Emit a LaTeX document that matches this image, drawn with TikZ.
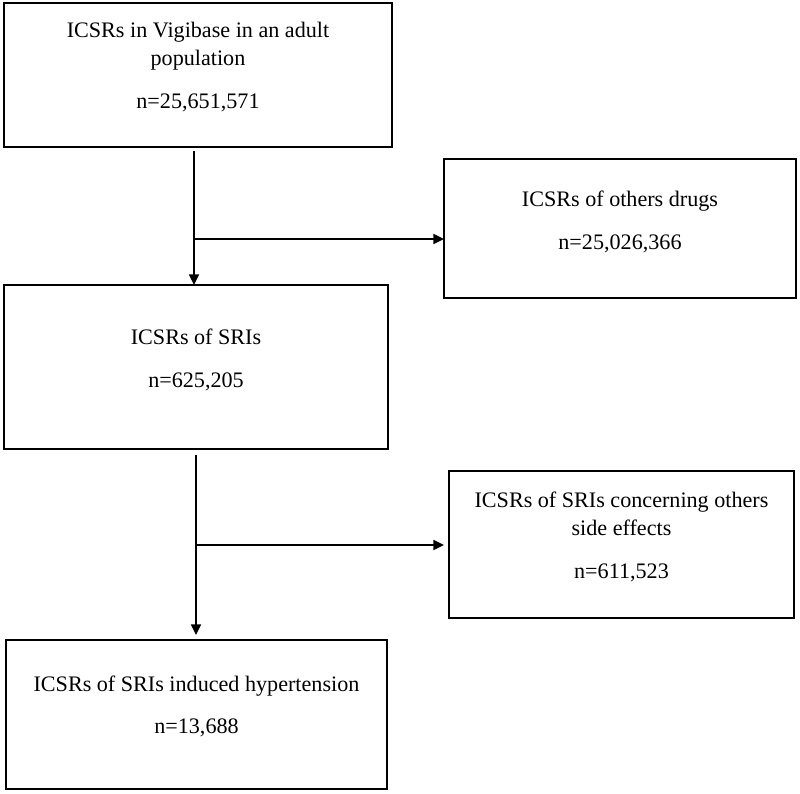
\documentclass[tikz,border=0pt]{standalone}
\usepackage{fontspec}
\setmainfont{Liberation Serif}
\usetikzlibrary{arrows.meta}
\begin{document}
\begin{tikzpicture}[x=0.75pt,y=-0.75pt,
  box/.style={draw, line width=1.3pt, inner sep=0pt, outer sep=0pt},
  txt/.style={align=center, inner sep=0pt, font=\fontsize{16.6}{21}\selectfont},
  arr/.style={line width=1.2pt, -{Triangle[length=8pt,width=7.5pt]}},
  ln/.style={line width=1.2pt}]
\useasboundingbox (0,0) rectangle (800,793);
% boxes
\node[box, minimum width=291pt, minimum height=108pt] (b1) at (198,75) {};
\node[box, minimum width=264pt, minimum height=104.25pt] (b2) at (620,228.5) {};
\node[box, minimum width=288pt, minimum height=123pt] (b3) at (196,367) {};
\node[box, minimum width=258.75pt, minimum height=110.25pt] (b4) at (621.5,544.5) {};
\node[box, minimum width=285.75pt, minimum height=111.75pt] (b5) at (196.5,714.5) {};
% texts
\node[txt] (t1) at (198,67) {ICSRs in Vigibase in an adult\\population\\[11pt]n=25,651,571};
\node[txt] (t2) at (620,222) {ICSRs of others drugs\\[11pt]n=25,026,366};
\node[txt] (t3) at (196,360) {ICSRs of SRIs\\[11pt]n=625,205};
\node[txt] (t4) at (621.5,537) {ICSRs of SRIs concerning others\\side effects\\[11pt]n=611,523};
\node[txt] (t5) at (196.5,706.5) {ICSRs of SRIs induced hypertension\\[11pt]n=13,688};
% junctions
\coordinate (j1) at (194,239);
\coordinate (j2) at (196,545);
% connectors
\draw[arr, shorten <=3pt] (b1.south -| j1) -- (b3.north -| j1);
\draw[arr] (j1) -- (j1 -| b2.west);
\draw[arr, shorten <=4.5pt, shorten >=3.75pt] (b3.south -| j2) -- (b5.north -| j2);
\draw[arr, shorten >=3.75pt] (j2) -- (j2 -| b4.west);
\end{tikzpicture}
\end{document}
